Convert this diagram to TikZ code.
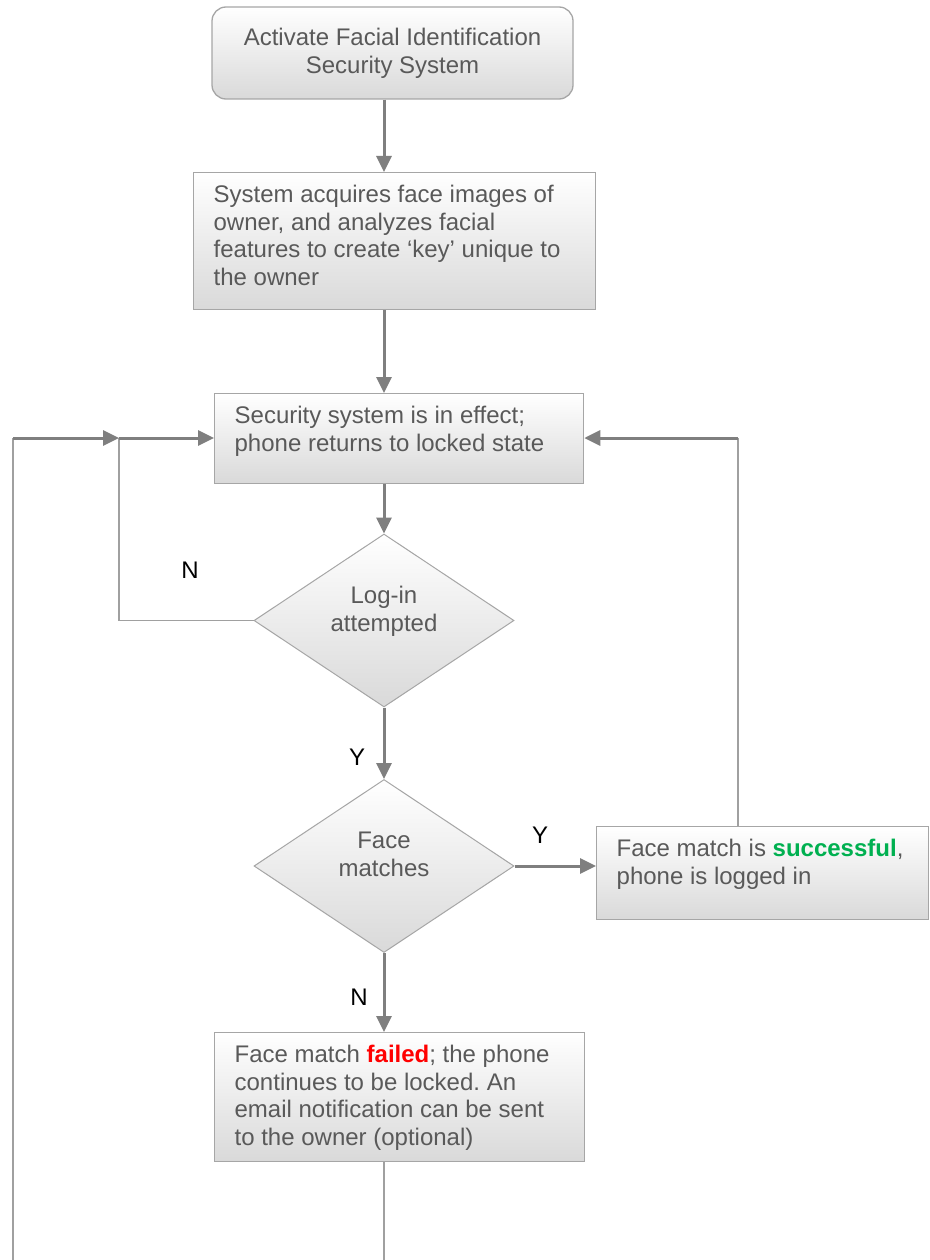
\documentclass[tikz,border=0pt]{standalone}
\usepackage{fontspec}
\setmainfont{Liberation Sans}
\usetikzlibrary{arrows.meta,shapes.geometric}
\definecolor{txtgray}{HTML}{595959}
\definecolor{arrgray}{HTML}{7F7F7F}
\definecolor{thingray}{HTML}{A0A0A0}
\definecolor{bordergray}{HTML}{A6A6A6}
\definecolor{boxbottom}{HTML}{D9D9D9}
\definecolor{okgreen}{HTML}{00B050}
\definecolor{badred}{HTML}{FF0000}
\newcommand\bxt[3]{\hspace*{20pt}\parbox[c][#2][t]{#1}{\raggedright\rule{0pt}{30pt}#3}}
\frenchspacing
\begin{document}
\begin{tikzpicture}[x=1pt,y=-1pt,
  txt/.style={font=\fontsize{24}{27.6}\selectfont, text=txtgray},
  shaded/.style={draw=bordergray, top color=white, bottom color=boxbottom},
  procbox/.style={txt, shaded, line width=1.3pt, inner sep=0pt, anchor=north west},
  startbox/.style={txt, shaded, line width=1.3pt, rounded corners=14pt, inner sep=0pt,
    minimum width=361pt, minimum height=92pt, align=center},
  decision/.style={txt, shaded, diamond, line width=1pt, inner sep=0pt, aspect=1.5,
    minimum width=260pt, minimum height=173pt, align=center, text depth=24pt},
  lbl/.style={font=\fontsize{24}{27.6}\selectfont, text=black, inner sep=0pt},
  arr/.style={draw=arrgray, line width=3pt, -{Triangle[length=16pt,width=15pt]}},
  thinln/.style={draw=thingray, line width=1.5pt}]
\fill[white] (0,0) rectangle (929,1260);
\useasboundingbox (0,0) rectangle (929,1260);

\node[startbox] (b1) at (392.5,53) {Activate Facial Identification\\Security System};
\node[procbox] (b2) at (193,172) {\bxt{382pt}{137pt}{System acquires face images of\\owner, and analyzes facial\\features to create ‘key’ unique to\\the owner}};
\node[procbox] (b3) at (214,393) {\bxt{349pt}{90pt}{Security system is in effect;\\phone returns to locked state}};
\node[decision] (d1) at (384,620.5) {Log-in\\attempted};
\node[decision] (d2) at (384,866) {Face\\matches};
\node[procbox] (b4) at (596,826) {\bxt{312pt}{93pt}{Face match is \textcolor{okgreen}{\textbf{successful}},\\phone is logged in}};
\node[procbox] (b5) at (214,1032) {\bxt{350pt}{129pt}{Face match \textcolor{badred}{\textbf{failed}}; the phone\\continues to be locked. An\\email notification can be sent\\to the owner (optional)}};

\node[lbl] (nA) at (190,570) {N};
\node[lbl] (yA) at (357,757) {Y};
\node[lbl] (yB) at (540,835) {Y};
\node[lbl] (nB) at (359,997) {N};

\coordinate (rc) at (738,438);
\coordinate (lj) at (119,438);
\coordinate (ot) at (13,438);
\coordinate (ob) at (13,1260);
\coordinate (bb) at (384,1260);

\draw[arr] (b1.south -| d1.north) -- (b2.north -| d1.north);
\draw[arr] (b2.south -| d1.north) -- (b3.north -| d1.north);
\draw[arr] (b3.south -| d1.north) -- (d1.north);
\draw[arr] (d1.south) -- (d2.north);
\draw[arr] (d2.south) -- (b5.north -| d2.south);
\draw[arr] (d2.east) -- (b4.west |- d2.east);

\draw[thinln] (b4.north -| rc) -- (rc);
\draw[arr] (rc) -- (b3.east |- rc);

\draw[thinln] (d1.west) -- (d1.west -| lj) -- (lj);
\draw[arr] (lj) -- (b3.west |- lj);

\draw[thinln] (ob) -- (ot);
\draw[arr] (ot) -- (lj);

\draw[thinln] (b5.south -| bb) -- (bb);
\end{tikzpicture}
\end{document}
